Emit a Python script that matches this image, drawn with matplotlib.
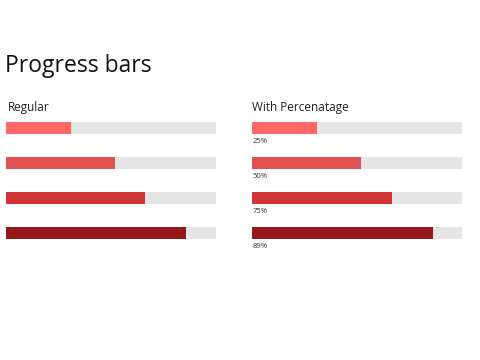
import matplotlib
matplotlib.use("Agg")
import matplotlib.pyplot as plt

fills = [0.31, 0.52, 0.665, 0.86]
labels = ["25%", "50%", "75%", "89%"]
colors = ["#ff6666", "#e05252", "#d13535", "#941818"]
track_color = "#e5e5e5"
title = "Progress bars"
subtitles = ["Regular", "With Percenatage"]

plt.rcParams['font.family'] = ['Open Sans', 'DejaVu Sans']
W, H = 480, 360
fig = plt.figure(figsize=(4.8, 3.6), dpi=100)
fig.patch.set_facecolor("white")

fig.text(5 / W, 1 - 71.7 / H, title, fontsize=16.5, color="#111111", va="baseline", ha="left")

lefts = [6 / W, 252.5 / W]
sub_x = [7.5 / W, 251.5 / W]
for p in range(2):
    ax = fig.add_axes([lefts[p], 1 - 250.1 / H, 209.5 / W, 139.2 / H])
    ys = list(range(len(fills)))
    ax.barh(ys, [1] * len(fills), height=0.337, color=track_color, left=0)
    ax.barh(ys, fills, height=0.337, color=colors, left=0)
    if p == 1:
        for y, lab in zip(ys, labels):
            ax.text(0.0, y + 0.385, lab, fontsize=5.5, color="#333333", va="center", ha="left")
    ax.set_xlim(0, 1)
    ax.set_ylim(3.5, -0.5)
    ax.axis("off")
    fig.text(sub_x[p], 1 - 111.2 / H, subtitles[p], fontsize=8.5, color="#222222",
             va="baseline", ha="left")

fig.savefig("out.png", dpi=100, facecolor="white")
